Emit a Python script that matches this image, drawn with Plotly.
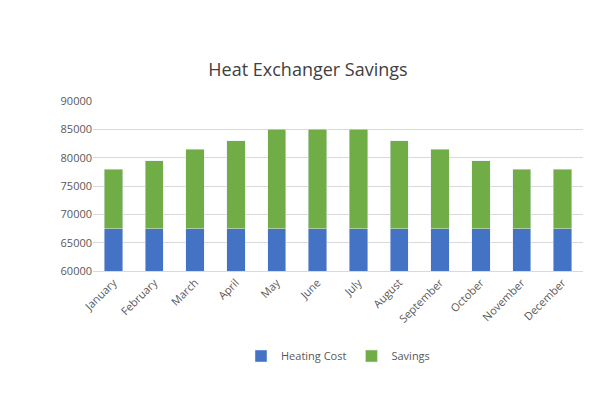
import plotly.graph_objects as go

months = ["January", "February", "March", "April", "May", "June", "July",
          "August", "September", "October", "November", "December"]
heating_cost = [67500] * 12
totals = [78000, 79500, 81500, 83000, 85000, 85000, 85000, 83000, 81500, 79500, 78000, 78000]
savings = [t - h for t, h in zip(totals, heating_cost)]

fig = go.Figure()
fig.add_trace(go.Bar(x=months, y=heating_cost, name="Heating Cost", marker_color="#4472C4"))
fig.add_trace(go.Bar(x=months, y=savings, name="Savings", marker_color="#70AD47"))

fig.update_layout(
    barmode="stack",
    bargap=0.55,
    width=600, height=400,
    paper_bgcolor="white", plot_bgcolor="white",
    font=dict(family="Open Sans, Calibri, sans-serif", color="#595959", size=11),
    title=dict(text="Heat Exchanger Savings", x=0.5, y=0.845, xanchor="center",
               yanchor="middle", font=dict(size=18, color="#404040")),
    margin=dict(l=85, r=25, t=93, b=137),
    legend=dict(orientation="h", x=0.5, xanchor="center", y=-0.5, yanchor="middle",
                traceorder="normal", font=dict(size=11)),
    showlegend=True,
)
fig.update_yaxes(range=[60000, 90000], dtick=5000, tickformat="d", showgrid=True,
                 gridcolor="#D9D9D9", zeroline=False, tickfont=dict(size=11))
fig.update_xaxes(tickangle=-45, showline=True, linecolor="#D9D9D9", tickfont=dict(size=11))

fig.write_html("out.html")
